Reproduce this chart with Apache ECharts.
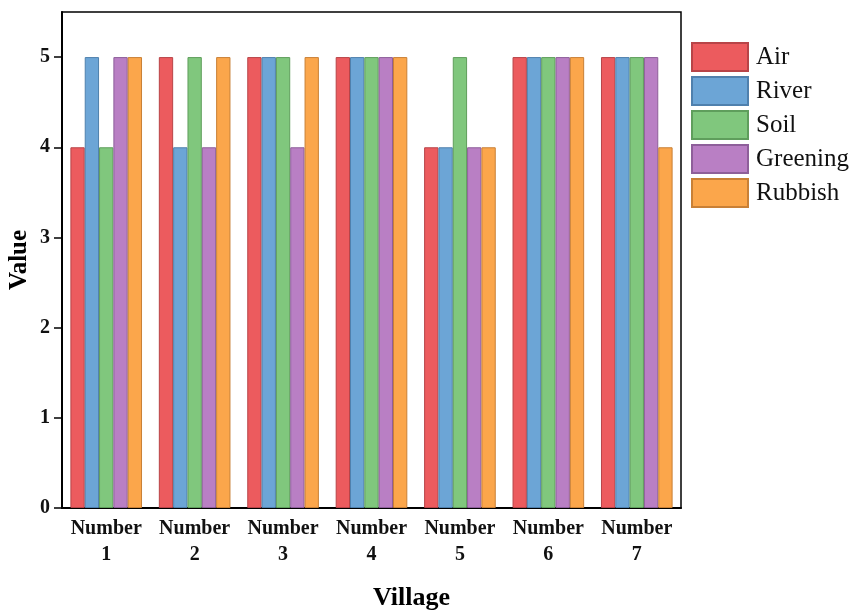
<!DOCTYPE html>
<html>
<head>
<meta charset="utf-8">
<script src="https://cdn.jsdelivr.net/npm/echarts@6/dist/echarts.min.js"></script>
<style>html,body{margin:0;padding:0;background:#fff}#c{width:852px;height:610px}</style>
</head>
<body>
<div id="c"></div>
<script>
const categories = ['Number\n1','Number\n2','Number\n3','Number\n4','Number\n5','Number\n6','Number\n7'];
const seriesNames = ['Air','River','Soil','Greening','Rubbish'];
const air = [4,5,5,5,4,5,5];
const river = [5,4,5,5,4,5,5];
const soil = [4,5,5,5,5,5,5];
const greening = [5,4,4,5,4,5,5];
const rubbish = [5,5,5,5,4,5,4];
const yTicks = [0,1,2,3,4,5];

const values = [air, river, soil, greening, rubbish];
const colors = ['#ec5b5e','#6ca5d6','#80c77d','#b97fc4','#fba64b'];
const borders = ['#b84448','#4f80ad','#5f9e5c','#8e5f9a','#c98036'];
const font = '"Liberation Serif", "Times New Roman", serif';

const chart = echarts.init(document.getElementById('c'));
chart.setOption({
  animation: false,
  textStyle: {fontFamily: font},
  grid: {left: 62, right: 171, top: 12, bottom: 102, outerBoundsMode: 'none', containLabel: false,
         show: true, borderColor: '#000', borderWidth: 1.5, backgroundColor: 'transparent'},
  legend: {
    orient: 'vertical', left: 686, top: 37,
    itemWidth: 56, itemHeight: 28, itemGap: 4,
    icon: 'rect',
    textStyle: {fontFamily: font, fontSize: 25, color: '#111', padding: [0,0,0,3]},
    data: seriesNames
  },
  xAxis: {
    type: 'category', data: categories,
    name: 'Village', nameLocation: 'middle', nameGap: 77, nameMoveOverlap: false,
    nameTextStyle: {fontFamily: font, fontSize: 26, fontWeight: 'bold', color: '#000', padding: [0,0,0,80]},
    axisLine: {lineStyle: {color: '#000', width: 2}},
    axisTick: {show: true, inside: true, alignWithLabel: true, length: 6, lineStyle: {color: '#000', width: 1.5}},
    axisLabel: {fontFamily: font, fontSize: 20, fontWeight: 'bold', color: '#111', lineHeight: 26, margin: 8, interval: 0}
  },
  yAxis: {
    type: 'value', min: 0, max: 5.5, interval: 1,
    name: 'Value', nameLocation: 'middle', nameGap: 30, nameRotate: 90, nameMoveOverlap: false,
    nameTextStyle: {fontFamily: font, fontSize: 25, fontWeight: 'bold', color: '#000'},
    splitLine: {show: false},
    axisLine: {show: true, lineStyle: {color: '#000', width: 2}},
    axisTick: {show: true, length: 8, lineStyle: {color: '#000', width: 1.5}, customValues: yTicks},
    axisLabel: {fontFamily: font, fontSize: 20, fontWeight: 'bold', color: '#111', margin: 12, customValues: yTicks}
  },
  series: seriesNames.map((n, i) => ({
    name: n, type: 'bar', data: values[i],
    barGap: '0%', barCategoryGap: '19%',
    itemStyle: {color: colors[i], borderColor: borders[i], borderWidth: 1}
  }))
});
</script>
</body>
</html>
